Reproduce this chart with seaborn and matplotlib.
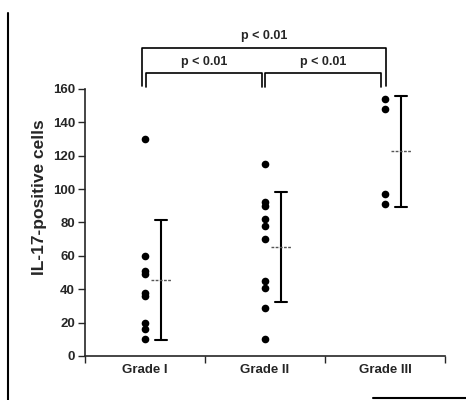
import numpy as np
import pandas as pd
import matplotlib.pyplot as plt
import matplotlib.transforms as mtransforms
from matplotlib.lines import Line2D
import seaborn as sns

# IL-17 positive cell counts per tumour grade
grades = ["Grade I", "Grade II", "Grade III"]
grade_1 = [130, 60, 51, 49, 38, 36, 20, 16, 10]
grade_2 = [115, 92, 90, 82, 78, 70, 45, 41, 29, 10]
grade_3 = [154, 148, 97, 91]
y_ticks = [0, 20, 40, 60, 80, 100, 120, 140, 160]
p_label = "p < 0.01"

df = pd.DataFrame({
    "grade": [grades[0]] * len(grade_1) + [grades[1]] * len(grade_2) + [grades[2]] * len(grade_3),
    "cells": grade_1 + grade_2 + grade_3,
})

sns.set_style("ticks")
plt.rcParams["font.family"] = ["Liberation Sans Narrow", "Liberation Sans", "DejaVu Sans"]

fig = plt.figure(figsize=(4.66, 4.0), dpi=100)
ax = fig.add_axes([0.182, 0.11, 0.773, 0.835])

sns.stripplot(data=df, x="grade", y="cells", order=grades, jitter=False,
              color="black", size=5.5, linewidth=0, ax=ax)

# mean +/- SD drawn to the right of the dots
n_before = len(ax.lines)
sns.pointplot(data=df, x="grade", y="cells", order=grades, errorbar="sd",
              capsize=0.1, color="black", linestyle="none", markersize=0,
              err_kws={"linewidth": 1.5}, ax=ax)
shift = mtransforms.ScaledTranslation(16 / 100, 0, fig.dpi_scale_trans)
for ln in ax.lines[n_before:]:
    ln.set_transform(ln.get_transform() + shift)

means = df.groupby("grade")["cells"].mean().reindex(grades)
xpos = np.arange(len(grades)) + 0.133
ax.hlines(means.values, xpos - 0.085, xpos + 0.085, colors="#555555",
          linestyles=(0, (2, 1)), linewidth=1)

ax.set_xlim(-0.5, 2.5)
ax.set_ylim(0, 200)
ax.set_yticks(y_ticks)
ax.spines["left"].set_bounds(0, 160)
ax.spines["top"].set_visible(False)
ax.spines["right"].set_visible(False)
ax.spines["left"].set_linewidth(1.2)
ax.spines["bottom"].set_linewidth(1.2)

# boundary ticks on x, labels centred under each group
ax.set_xticks([-0.5, 0.5, 1.5, 2.5])
ax.set_xticklabels([])
ax.set_xticks([0, 1, 2], minor=True)
ax.set_xticklabels(grades, minor=True, fontsize=9.5, fontweight="bold")
ax.tick_params(axis="x", which="minor", length=0, pad=6)
ax.tick_params(axis="x", which="major", length=5, width=1, direction="out")
ax.tick_params(axis="y", length=5, width=1, labelsize=9.5, pad=2)
for t in ax.get_yticklabels():
    t.set_fontweight("bold")

ax.set_xlabel("")
ax.set_ylabel("IL-17-positive cells", fontsize=12.5, fontweight="bold")
ax.yaxis.set_label_coords(-0.105, 0.475)

# significance brackets
def bracket(x0, x1, y, leg, txt_y):
    ax.plot([x0, x0, x1, x1], [y - leg, y, y, y - leg], color="black",
            linewidth=1.2, clip_on=False)
    ax.text((x0 + x1) / 2, txt_y, p_label, ha="center", va="center",
            fontsize=9, fontweight="bold")

bracket(0.01, 0.975, 169.6, 8.5, 176)
bracket(1.0, 1.967, 169.6, 8.5, 176)
bracket(-0.02, 2.005, 184.5, 23, 191.5)

# scanned page frame
fig.add_artist(Line2D([0.018, 0.018], [0.0, 0.968], color="black", linewidth=1.5))
fig.add_artist(Line2D([0.8, 1.0], [0.005, 0.005], color="black", linewidth=1.5))

fig.savefig("out.png", dpi=100)
